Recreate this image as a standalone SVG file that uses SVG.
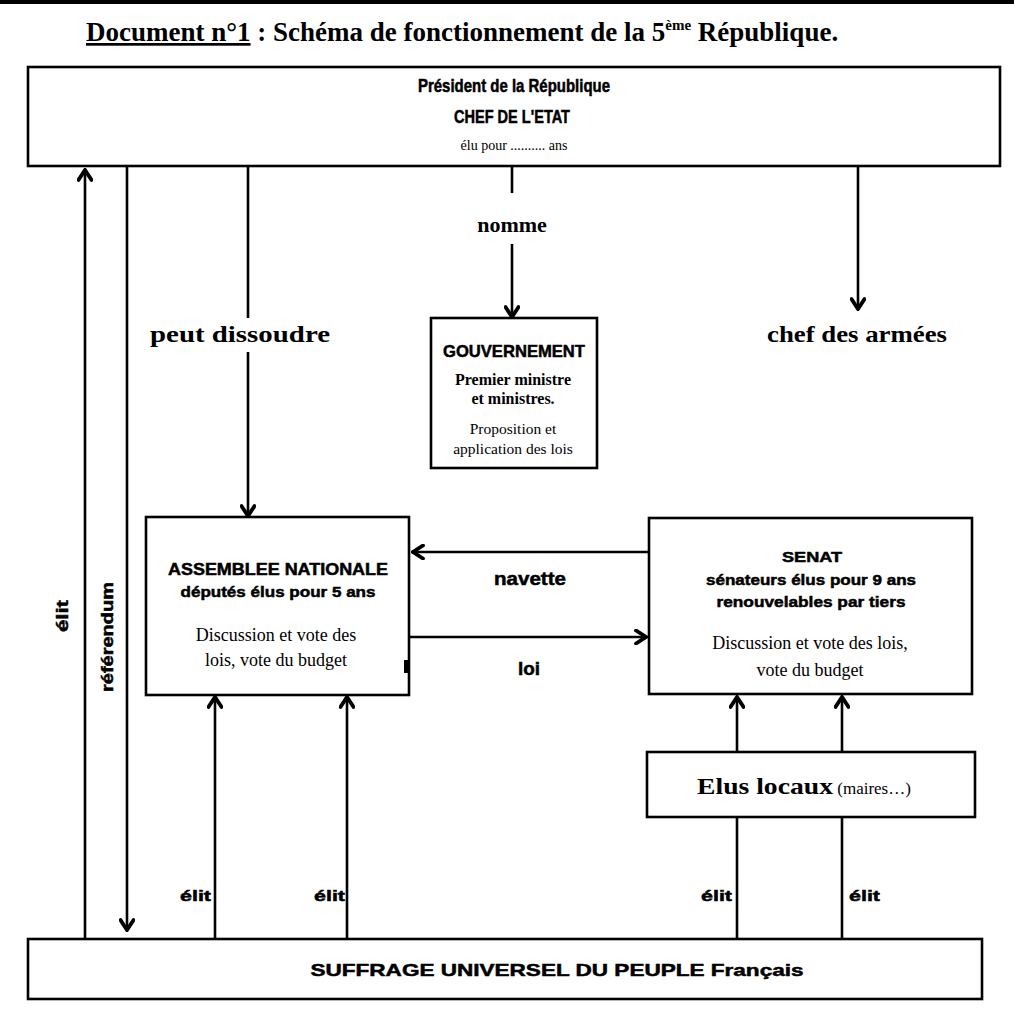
<svg xmlns="http://www.w3.org/2000/svg" width="1014" height="1021" viewBox="0 0 1014 1021">
<defs>
<style>
.box{fill:#fff;stroke:#000;stroke-width:2.6}
.ln{stroke:#000;stroke-width:2.6;fill:none}
.sans{font-family:"Liberation Sans",Arial,sans-serif;font-weight:bold;fill:#000;stroke:#000;stroke-width:0.5}
.serif{font-family:"Liberation Serif","Times New Roman",serif;fill:#000}
.b{font-weight:bold}
</style>
<marker id="ah" viewBox="0 0 14 16" refX="12" refY="8" markerWidth="14" markerHeight="16" markerUnits="userSpaceOnUse" orient="auto">
<path d="M2,1.5 L12,8 L2,14.5" fill="none" stroke="#000" stroke-width="3.8" stroke-linecap="round" stroke-linejoin="miter"/>
</marker>
</defs>
<rect x="0" y="0" width="1014" height="1021" fill="#fff"/>
<rect x="0" y="0" width="1014" height="4" fill="#000"/>
<g id="title">
<text class="serif b" x="86" y="41" font-size="27"><tspan text-decoration="underline">Document n°1</tspan> : Schéma de fonctionnement de la 5<tspan font-size="15" dy="-11">ème</tspan><tspan dy="11"> République.</tspan></text>
</g>
<g id="connectors">
<line class="ln" x1="85" y1="938" x2="85" y2="170" marker-end="url(#ah)"/>
<line class="ln" x1="127" y1="167" x2="127" y2="930" marker-end="url(#ah)"/>
<line class="ln" x1="248" y1="167" x2="248" y2="318"/>
<line class="ln" x1="248" y1="352" x2="248" y2="516" marker-end="url(#ah)"/>
<line class="ln" x1="512" y1="167" x2="512" y2="193" stroke-width="3.5"/>
<line class="ln" x1="512" y1="244" x2="512" y2="317" marker-end="url(#ah)"/>
<line class="ln" x1="858" y1="167" x2="858" y2="309" marker-end="url(#ah)"/>
<line class="ln" x1="648" y1="552" x2="413" y2="552" marker-end="url(#ah)"/>
<line class="ln" x1="410" y1="637" x2="646" y2="637" marker-end="url(#ah)"/>
<line class="ln" x1="215" y1="938" x2="215" y2="697" marker-end="url(#ah)"/>
<line class="ln" x1="347" y1="938" x2="347" y2="697" marker-end="url(#ah)"/>
<line class="ln" x1="737" y1="752" x2="737" y2="697" marker-end="url(#ah)"/>
<line class="ln" x1="842" y1="752" x2="842" y2="697" marker-end="url(#ah)"/>
<line class="ln" x1="737" y1="938" x2="737" y2="817"/>
<line class="ln" x1="842" y1="938" x2="842" y2="817"/>
<text class="serif b" x="512" y="232" font-size="22" text-anchor="middle">nomme</text>
<text class="serif b" x="240" y="342" font-size="23" text-anchor="middle" textLength="180" lengthAdjust="spacingAndGlyphs">peut dissoudre</text>
<text class="serif b" x="857" y="342" font-size="23" text-anchor="middle" textLength="180" lengthAdjust="spacingAndGlyphs">chef des armées</text>
<text class="sans" x="530" y="585" font-size="18" text-anchor="middle" textLength="72" lengthAdjust="spacingAndGlyphs">navette</text>
<text class="sans" x="529" y="675" font-size="18" text-anchor="middle" textLength="22" lengthAdjust="spacingAndGlyphs">loi</text>
<text class="sans" transform="translate(68,616) rotate(-90)" font-size="16" text-anchor="middle" textLength="32" lengthAdjust="spacingAndGlyphs">élit</text>
<text class="sans" transform="translate(113,637) rotate(-90)" font-size="16" text-anchor="middle" textLength="110" lengthAdjust="spacingAndGlyphs">référendum</text>
<text class="sans" x="211" y="901" font-size="15" text-anchor="end" textLength="31" lengthAdjust="spacingAndGlyphs">élit</text>
<text class="sans" x="345" y="901" font-size="15" text-anchor="end" textLength="31" lengthAdjust="spacingAndGlyphs">élit</text>
<text class="sans" x="732" y="901" font-size="15" text-anchor="end" textLength="31" lengthAdjust="spacingAndGlyphs">élit</text>
<text class="sans" x="849" y="901" font-size="15" textLength="31" lengthAdjust="spacingAndGlyphs">élit</text>
</g>
<g id="president">
<rect class="box" x="28" y="67" width="972" height="99"/>
<text class="sans" x="514" y="92" font-size="18" text-anchor="middle" textLength="192" lengthAdjust="spacingAndGlyphs">Président de la République</text>
<text class="sans" x="512" y="123" font-size="18" text-anchor="middle" textLength="116" lengthAdjust="spacingAndGlyphs">CHEF DE L'ETAT</text>
<text class="serif" x="514" y="150" font-size="14" text-anchor="middle">élu pour .......... ans</text>
</g>
<g id="gouvernement">
<rect class="box" x="431" y="318" width="166" height="150"/>
<text class="sans" x="514" y="357" font-size="17" text-anchor="middle" textLength="142" lengthAdjust="spacingAndGlyphs">GOUVERNEMENT</text>
<text class="serif b" x="513" y="385" font-size="16" text-anchor="middle">Premier ministre</text>
<text class="serif b" x="513" y="404" font-size="16" text-anchor="middle">et ministres.</text>
<text class="serif" x="513" y="434" font-size="15.5" text-anchor="middle">Proposition et</text>
<text class="serif" x="513" y="454" font-size="15.5" text-anchor="middle">application des lois</text>
</g>
<g id="assemblee">
<rect class="box" x="146" y="517" width="263" height="178"/>
<rect x="404" y="660" width="6" height="13" fill="#000"/>
<text class="sans" x="278" y="575" font-size="16" text-anchor="middle" textLength="220" lengthAdjust="spacingAndGlyphs">ASSEMBLEE NATIONALE</text>
<text class="sans" x="278" y="597" font-size="15" text-anchor="middle" textLength="195" lengthAdjust="spacingAndGlyphs">députés élus pour 5 ans</text>
<text class="serif" x="276" y="641" font-size="18" text-anchor="middle">Discussion et vote des</text>
<text class="serif" x="276" y="666" font-size="18" text-anchor="middle">lois, vote du budget</text>
</g>
<g id="senat">
<rect class="box" x="649" y="518" width="323" height="176"/>
<text class="sans" x="812" y="562" font-size="15" text-anchor="middle" textLength="60" lengthAdjust="spacingAndGlyphs">SENAT</text>
<text class="sans" x="811" y="585" font-size="15" text-anchor="middle" textLength="210" lengthAdjust="spacingAndGlyphs">sénateurs élus pour 9 ans</text>
<text class="sans" x="811" y="607" font-size="15" text-anchor="middle" textLength="189" lengthAdjust="spacingAndGlyphs">renouvelables par tiers</text>
<text class="serif" x="810" y="649" font-size="18" text-anchor="middle">Discussion et vote des lois,</text>
<text class="serif" x="810" y="676" font-size="18" text-anchor="middle">vote du budget</text>
</g>
<g id="elus-locaux">
<rect class="box" x="647" y="752" width="328" height="65"/>
<text class="serif" x="697" y="794"><tspan class="b" font-size="23" textLength="136" lengthAdjust="spacingAndGlyphs">Elus locaux</tspan><tspan font-size="17"> (maires…)</tspan></text>
</g>
<g id="suffrage">
<rect class="box" x="28" y="939" width="954" height="60"/>
<text class="sans" x="557" y="976" font-size="17" text-anchor="middle" textLength="493" lengthAdjust="spacingAndGlyphs">SUFFRAGE UNIVERSEL DU PEUPLE Français</text>
</g>
</svg>
